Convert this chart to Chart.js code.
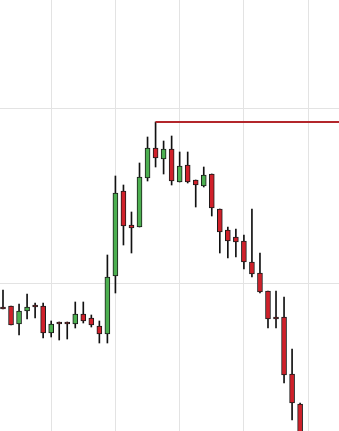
<!DOCTYPE html>
<html>
<head>
<meta charset="utf-8">
<script src="https://cdn.jsdelivr.net/npm/chart.js@4/dist/chart.umd.min.js"></script>
<style>
  html, body { margin: 0; padding: 0; background: #fff; }
  #wrap { width: 339px; height: 431px; position: relative; }
</style>
</head>
<body>
<div id="wrap"><canvas id="chart"></canvas></div>
<script>
/**
 * Data
 */
const opens  = [1.1976, 1.1977, 1.1959, 1.1972, 1.1978, 1.1977, 1.1950, 1.1961, 1.1961, 1.1959,
                1.1969, 1.1965, 1.1957, 1.1949, 1.2007, 1.2092, 1.2058, 1.2056, 1.2105, 1.2135,
                1.2124, 1.2134, 1.2101, 1.2118, 1.2103, 1.2097, 1.2109, 1.2074, 1.2053, 1.2046,
                1.2042, 1.2021, 1.2010, 1.1992, 1.1966, 1.1966, 1.1909, 1.1879];
const highs  = [1.1993, 1.1977, 1.1979, 1.1989, 1.1980, 1.1980, 1.1962, 1.1961, 1.1961, 1.1981,
                1.1981, 1.1968, 1.1962, 1.2028, 1.2107, 1.2098, 1.2071, 1.2120, 1.2146, 1.2161,
                1.2142, 1.2147, 1.2131, 1.2131, 1.2103, 1.2116, 1.2109, 1.2074, 1.2056, 1.2054,
                1.2048, 1.2074, 1.2030, 1.1992, 1.1992, 1.1986, 1.1934, 1.1880];
const lows   = [1.1974, 1.1958, 1.1948, 1.1964, 1.1965, 1.1945, 1.1946, 1.1943, 1.1944, 1.1955,
                1.1960, 1.1956, 1.1940, 1.1940, 1.1990, 1.2038, 1.2030, 1.2056, 1.2102, 1.2116,
                1.2109, 1.2098, 1.2101, 1.2100, 1.2076, 1.2096, 1.2067, 1.2030, 1.2025, 1.2026,
                1.2014, 1.2006, 1.1990, 1.1955, 1.1955, 1.1900, 1.1863, 1.1813];
const closes = [1.1974, 1.1958, 1.1972, 1.1976, 1.1976, 1.1950, 1.1959, 1.1959, 1.1959, 1.1969,
                1.1962, 1.1958, 1.1949, 1.2006, 1.2090, 1.2057, 1.2055, 1.2106, 1.2135, 1.2125,
                1.2134, 1.2102, 1.2117, 1.2101, 1.2098, 1.2108, 1.2075, 1.2051, 1.2042, 1.2041,
                1.2021, 1.2009, 1.1991, 1.1964, 1.1964, 1.1908, 1.1880, 1.1818];

// level line drawn from the high of bar 19 to the right edge
const levelStart = 19;
const levelEnd = 42;
const levelPrice = 1.2161;

// grid positions
const xGridTicks = [6, 14, 22, 30, 38];
const yGridTicks = [1.2000, 1.2174];

const upColor = '#4caf50';
const downColor = '#d0202a';

/**
 * Chart
 */
function createCandleChart(selector) {
  const ctx = document.getElementById(selector).getContext('2d');
  const idx = opens.map((_, i) => i);
  const isUp = (i) => closes[i] >= opens[i];

  return new Chart(ctx, {
    type: 'bar',
    data: {
      datasets: [
        {
          // candle bodies
          data: idx.map((i) => ({ x: i, y: [opens[i], closes[i]] })),
          backgroundColor: (c) => (isUp(c.dataIndex) ? upColor : downColor),
          borderColor: '#1a1a1a',
          borderWidth: 1,
          borderSkipped: false,
          barThickness: 5,
          grouped: false,
          order: 1,
        },
        {
          // wicks
          data: idx.map((i) => ({ x: i, y: [lows[i], highs[i]] })),
          backgroundColor: '#111',
          borderWidth: 0,
          barThickness: 1,
          grouped: false,
          order: 2,
        },
        {
          type: 'line',
          data: [
            { x: levelStart, y: levelPrice },
            { x: levelEnd, y: levelPrice },
          ],
          borderColor: '#b3262b',
          borderWidth: 2,
          pointRadius: 0,
          order: 0,
        },
      ],
    },
    options: {
      responsive: true,
      maintainAspectRatio: false,
      animation: false,
      layout: { padding: 0 },
      plugins: {
        legend: { display: false },
        tooltip: { enabled: false },
      },
      scales: {
        x: {
          type: 'linear',
          min: -0.3736,
          max: 41.843,
          offset: false,
          afterBuildTicks: (scale) => {
            scale.ticks = xGridTicks.map((v) => ({ value: v }));
          },
          ticks: { display: false },
          grid: { color: '#e3e3e3', offset: false, drawTicks: false },
          border: { display: false },
        },
        y: {
          min: 1.1852,
          max: 1.2283,
          afterBuildTicks: (scale) => {
            scale.ticks = yGridTicks.map((v) => ({ value: v }));
          },
          ticks: { display: false },
          grid: { color: '#e3e3e3', drawTicks: false },
          border: { display: false },
        },
      },
    },
  });
}

createCandleChart('chart');
</script>
</body>
</html>
